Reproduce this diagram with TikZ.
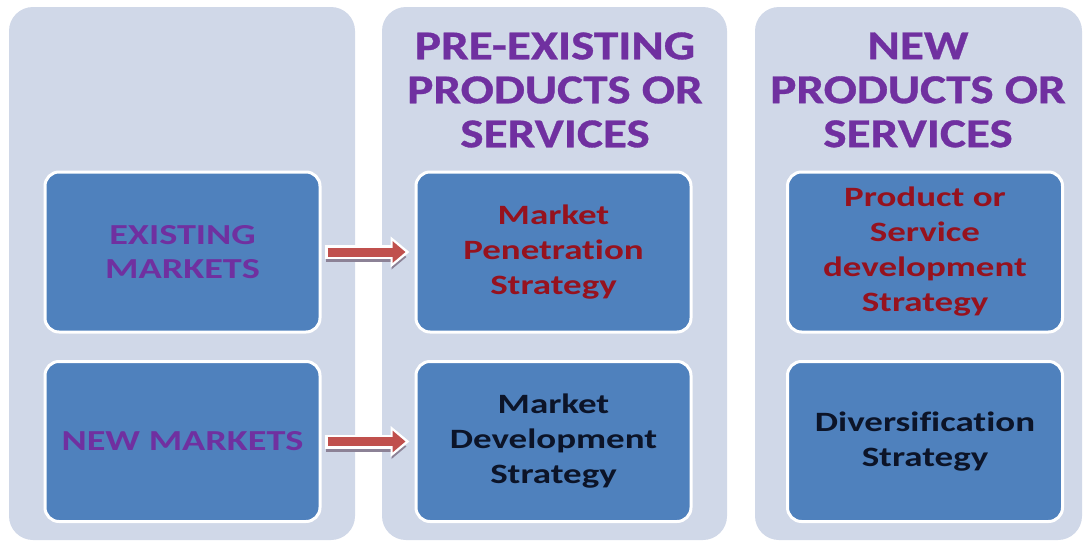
\documentclass[tikz,border=0pt]{standalone}
\usepackage{fontspec}
\setmainfont[Ligatures=CommonOff, FakeStretch=1.32]{Carlito}
\newfontfamily\hdfont[Ligatures=CommonOff, FakeStretch=1.2, FakeBold=0.8]{Carlito}
\usetikzlibrary{arrows.meta}
\definecolor{colbg}{RGB}{208,216,232}
\definecolor{boxblue}{RGB}{79,129,189}
\definecolor{hdpurple}{RGB}{112,48,160}
\definecolor{dkred}{RGB}{150,18,30}
\definecolor{dkblue}{RGB}{12,20,40}
\definecolor{arrred}{RGB}{192,80,77}
\definecolor{shgray}{RGB}{140,130,150}
\tikzset{
  colbox/.style={fill=colbg, rounded corners=24pt},
  cell/.style={fill=boxblue, draw=white, line width=3pt, rounded corners=14pt,
    minimum width=275pt, minimum height=160pt, inner sep=0pt, align=center,
    font=\bfseries\fontsize{28}{35}\selectfont},
  header/.style={text=hdpurple, align=center, font=\hdfont\bfseries\fontsize{41}{44}\selectfont},
  redtxt/.style={text=dkred},
  blktxt/.style={text=dkblue},
  purtxt/.style={text=hdpurple, font=\bfseries\fontsize{29}{34}\selectfont},
  arrshadow/.style={draw=shgray, line width=10pt, -{Triangle[width=24pt,length=15pt]}, shorten <=4pt, shorten >=8pt, transform canvas={yshift=-5pt}},
  arrout/.style={draw=white, line width=14pt, -{Triangle[width=30pt,length=19pt]}, shorten <=3pt, shorten >=5pt},
  arrin/.style={draw=arrred, line width=9pt, -{Triangle[width=21pt,length=13pt]}, shorten <=6pt, shorten >=9pt}
}
\begin{document}
\begin{tikzpicture}[x=1pt,y=-1pt]
\useasboundingbox (0,0) rectangle (1087,546);
\fill[white] (0,0) rectangle (1087,546);
% columns
\fill[colbox] (9,7) rectangle (355,540);
\fill[colbox] (382,7) rectangle (727,540);
\fill[colbox] (755,7) rectangle (1082,540);
% headers
\node[header] (h2) at (555,90) {PRE-EXISTING\\PRODUCTS OR\\SERVICES};
\node[header] (h3) at (918,90) {NEW\\PRODUCTS OR\\SERVICES};
% cells
\node[cell, purtxt] (em) at (182.5,252) {EXISTING\\MARKETS};
\node[cell, purtxt] (nm) at (182.5,441.5) {NEW MARKETS};
\node[cell, redtxt] (mp) at (553.5,252) {Market\\Penetration\\Strategy};
\node[cell, blktxt] (md) at (553.5,441.5) {Market\\Development\\Strategy};
\node[cell, redtxt] (pd) at (925,252) {Product or\\Service\\development\\Strategy};
\node[cell, blktxt] (dv) at (925,441.5) {Diversification\\Strategy};
% arrows
\draw[arrshadow] (em) -- (mp);
\draw[arrout] (em) -- (mp);
\draw[arrin] (em) -- (mp);
\draw[arrshadow] (nm) -- (md);
\draw[arrout] (nm) -- (md);
\draw[arrin] (nm) -- (md);
\end{tikzpicture}
\end{document}
